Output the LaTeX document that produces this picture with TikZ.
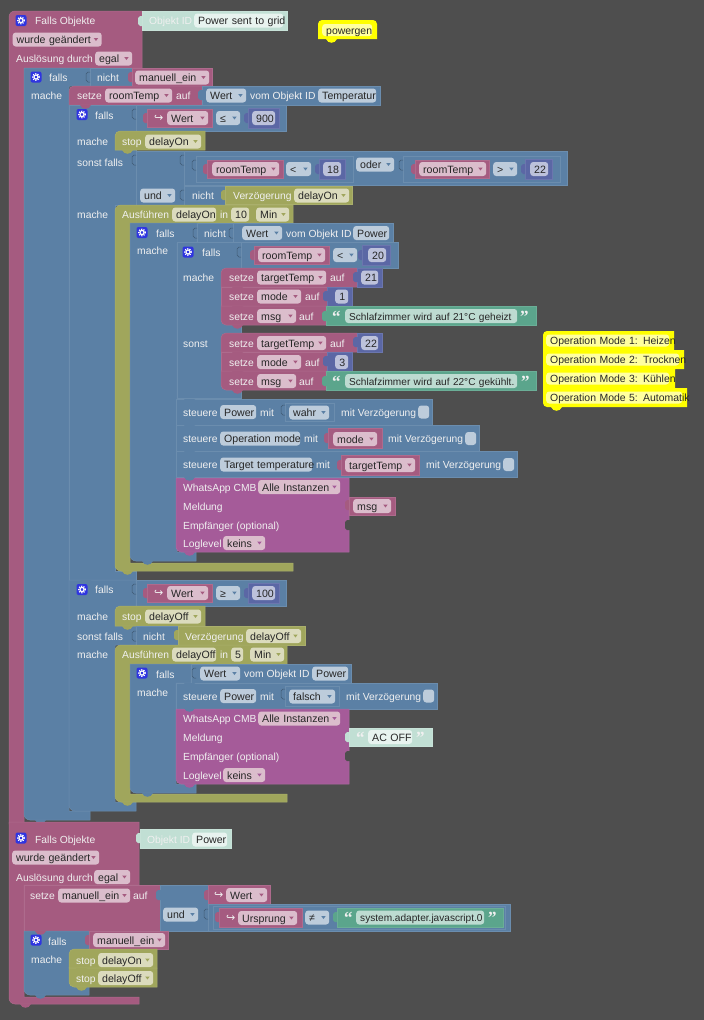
\documentclass[tikz,border=0pt]{standalone}
\usepackage{fontspec}
\setmainfont{Liberation Sans}
\newfontfamily\symfont{DejaVu Sans}
\newfontfamily\quofont{Liberation Serif}
\usepackage{tikz}

\definecolor{bgc}{HTML}{4E4E4E}
\definecolor{pk}{HTML}{A55B80}
\definecolor{bl}{HTML}{5B80A5}
\definecolor{ol}{HTML}{A0A65C}
\definecolor{tg}{HTML}{5BA58C}
\definecolor{pu}{HTML}{5B67A5}
\definecolor{wa}{HTML}{A55B99}
\definecolor{tl}{HTML}{C1DFD4}
\definecolor{ye}{HTML}{FFFF00}
\definecolor{pkf}{HTML}{DBBDCC}
\definecolor{blf}{HTML}{BDCCDB}
\definecolor{olf}{HTML}{DBDBBD}
\definecolor{tgf}{HTML}{BDDBD1}
\definecolor{puf}{HTML}{BDC2DB}
\definecolor{tlf}{HTML}{E8F3EF}
\definecolor{yef}{HTML}{FFFFA0}
\definecolor{gearc}{HTML}{2F35E0}
\definecolor{lbl}{HTML}{F0F0F0}

\newcommand{\ftxt}{\fontsize{10.6}{12}\selectfont}
\newcommand{\bump}[3]{\fill[#1] (#2,#3) .. controls (#2+2,#3+5) and (#2+9,#3+5) .. (#2+11,#3) -- cycle;}
\newcommand{\tabl}[3]{\fill[#1] (#2+1,#3-5) -- (#2-2,#3-5) -- (#2-4,#3-3) -- (#2-4,#3+3) -- (#2-2,#3+5) -- (#2+1,#3+5) -- cycle;}
\newcommand{\nch}[2]{\draw[bl!70!black,line width=.5pt] (#1,#2-5) -- (#1-2,#2-5) -- (#1-4,#2-3) -- (#1-4,#2+3) -- (#1-2,#2+5) -- (#1,#2+5);}

\tikzset{
  blk/.style={fill=#1,draw=#1!90!white,line width=.5pt},
  lab/.style={anchor=west,inner sep=0pt,text=lbl,text height=9pt,text depth=1pt,font=\fontsize{10.3}{12}\selectfont},
  fld/.style={anchor=west,inner xsep=3pt,inner ysep=2pt,text height=9pt,text depth=1pt,
    rounded corners=3pt,font=\ftxt,text=black!85,align=left,
    execute at begin node={\leavevmode\hbox\bgroup\kern1pt},execute at end node={\egroup}},
  fn/.style 2 args={fld,fill=#1,text width=#2pt},
  nm/.style 2 args={fn={#1}{#2},align=center},
  dd/.style={path picture={\fill[#1,sharp corners] ([shift={(-8pt,1.5pt)}]path picture bounding box.east)
    -- ++(4.5pt,0pt) -- ++(-2.25pt,-3pt) -- cycle;}},
  fp/.style={fn={pkf}{#1},dd=pk},
  fb/.style={fn={blf}{#1},dd=bl},
  fo/.style={fn={olf}{#1},dd=ol},
  fy/.style={fn={yef}{#1},inner ysep=1pt,font=\fontsize{10.45}{12}\selectfont},
  ft/.style={fn={tgf}{#1},font=\fontsize{10.1}{12}\selectfont},
  gear/.style={fill=gearc,rounded corners=2pt,minimum size=11pt,inner sep=0pt,
    path picture={\draw[white,line width=1.2pt,sharp corners] (path picture bounding box.center) circle (2.1pt);
      \draw[white,line width=1.2pt,sharp corners,dash pattern=on 1.2pt off 1.2pt] (path picture bounding box.center) circle (3.3pt);}},
  quo/.style={anchor=base west,inner sep=0pt,text=lbl,font=\quofont\bfseries\fontsize{17}{17}\selectfont},
  icon/.style={anchor=west,inner sep=0pt,text=lbl,font=\symfont\fontsize{11}{12}\selectfont},
  chk/.style={fill=blf,rounded corners=3pt,minimum width=11pt,minimum height=13pt,inner sep=0pt,anchor=west},
}

\begin{document}
\begin{tikzpicture}[x=1pt,y=-1pt]
  \useasboundingbox (0,0) rectangle (704,1020);
  \fill[bgc] (0,0) rectangle (704,1020);

  % first trigger
  \path[blk=pk] [rounded corners=6] (9,60) -- (9,11) -- (60,11) [sharp corners] -- (142,11) -- (142,68) -- (24,68) -- (24,824) -- (9,824) -- cycle;
  \tabl{tl}{142}{21}
  \fill[blk=tl] (142,11) rectangle (287,30);
  \node[gear] (g1) at (21,20.5) {};
  \node[lab] (l1) at (35,20.5) {Falls Objekte};
  \node[fp=83] (f1) at (12.5,39.5) {wurde geändert};
  \node[lab] (l2) at (16,58.5) {Auslösung durch};
  \node[fp=31] (f2) at (95,58.5) {egal};
  \node[lab] (l3) at (149,20.5) {Objekt ID};
  \node[fn={tlf}{83}] (f3) at (194,20.5) {Power sent to grid};

  % outer if
  \path[blk=bl] (90,68) -- (90,86) -- (69,86) -- (69,811) -- (90,811) -- (90,820) [rounded corners=6] -- (24,820) -- (24,90) [sharp corners] -- (24,68) -- cycle;
  \fill[blk=bl] (90,68) rectangle (132,86);
  \nch{90}{77}
  \tabl{pk}{132}{77}
  \fill[blk=pk] (132,68) rectangle (212,86);
  \node[gear] (g2) at (36,77) {};
  \node[lab] (l4) at (49,77.5) {falls};
  \node[lab] (l5) at (97,77.5) {nicht};
  \node[fp=68] (f4) at (135,77.5) {manuell\_ein};
  \node[lab] (l6) at (31,95.5) {mache};
  \bump{bl}{35}{820}

  % set roomTemp
  \path[blk=pk] [rounded corners=5] (69,105) -- (69,86) -- (90,86) [sharp corners] -- (202,86) -- (202,105) -- cycle;
  \fill[blk=bl] (202,86) rectangle (380,105);
  \tabl{bl}{202}{95}
  \node[lab] (l7) at (77,95.5) {setze};
  \node[fp=61] (f5) at (105,95.5) {roomTemp};
  \node[lab] (l8) at (176,95.5) {auf};
  \node[fb=34] (f6) at (206,95.5) {Wert};
  \node[lab] (l9) at (250,95.5) {vom Objekt ID};
  \node[fn={blf}{52}] (f7) at (318,95.5) {Temperatur};

  % if on Wert 900
  \path[blk=bl] (69,105) -- (136,105) -- (136,205) -- (115,205) -- (115,571) -- (136,571) -- (136,580) -- (69,580) -- cycle;
  \bump{pk}{80}{105}
  \fill[blk=bl] (136,105) rectangle (286,131);
  \nch{136}{114}
  \tabl{pk}{147}{118}
  \fill[blk=pk] (147,109) rectangle (212,127);
  \tabl{pu}{248}{118}
  \fill[blk=pu] (248,108) rectangle (279,128);
  \node[gear] (g3) at (82,114.5) {};
  \node[lab] (l10) at (95,115) {falls};
  \node[icon] (i1) at (154,118) {↪};
  \node[fp=35] (f8) at (167,118) {Wert};
  \node[fb=18] (f9) at (216,118) {≤};
  \node[nm={puf}{17}] (f10) at (252,118) {900};
  \node[lab] (l11) at (77,141) {mache};
  \path[blk=ol] [rounded corners=5] (115,150) -- (115,131) -- (130,131) [sharp corners] -- (205,131) -- (205,150) -- cycle;
  \node[lab] (l12) at (122,141.5) {stop};
  \node[fo=50] (f11) at (145,141.5) {delayOn};
  \bump{ol}{122}{150}

  % else if
  \node[lab] (l13) at (77,162) {sonst falls};
  \fill[blk=bl] (136,151) rectangle (184,205);
  \fill[blk=bl] (184,151) rectangle (567,185);
  \fill[blk=bl] (184,186) rectangle (225,205);
  \nch{136}{160}
  \nch{184}{160}
  \nch{184}{195}
  \draw[blk=bl,fill=bl] (196,156) rectangle (353,182);
  \draw[blk=bl,fill=bl] (403,156) rectangle (560,182);
  \nch{196}{165}
  \nch{403}{165}
  \tabl{pk}{207}{169}
  \fill[blk=pk] (207,160) rectangle (283,178);
  \tabl{pu}{319}{169}
  \fill[blk=pu] (319,159) rectangle (345,179);
  \tabl{pk}{415}{169}
  \fill[blk=pk] (415,160) rectangle (489,178);
  \tabl{pu}{525}{169}
  \fill[blk=pu] (525,159) rectangle (552,179);
  \node[fp=61] (f12) at (212,169) {roomTemp};
  \node[fb=19] (f13) at (286,169) {<};
  \node[nm={puf}{12}] (f14) at (323,169) {18};
  \node[fb=32] (f15) at (356,164.5) {oder};
  \node[fp=61] (f16) at (419,169) {roomTemp};
  \node[fb=18] (f17) at (493,169) {>};
  \node[nm={puf}{12}] (f18) at (530,169) {22};
  \node[fb=29] (f19) at (140,195.5) {und};
  \node[lab] (l14) at (192,195.5) {nicht};
  \tabl{ol}{225}{195}
  \fill[blk=ol] (225,186) rectangle (352,204);
  \node[lab] (l15) at (233,195.5) {Verzögerung};
  \node[fo=49] (f20) at (294,195.5) {delayOn};
  \node[lab] (l16) at (77,214) {mache};

  % delayed block
  \path[blk=ol] [rounded corners=6] (115,225) -- (115,205) -- (130,205) [sharp corners] -- (293,205) -- (293,223) -- (130,223) -- (130,563) -- (293,563) -- (293,571) [rounded corners=6] -- (115,571) -- (115,550) [sharp corners] -- cycle;
  \node[lab] (l17) at (122,214.5) {Ausführen};
  \node[fn={olf}{38}] (f21) at (172,214.5) {delayOn};
  \node[lab] (l18) at (220,214.5) {in};
  \node[nm={olf}{12}] (f22) at (231,214.5) {10};
  \node[fo=27] (f23) at (256,214.5) {Min};
  \bump{ol}{122}{571}

  % if not Power
  \path[blk=bl] (130,223) -- (197,223) -- (197,243) -- (177,243) -- (177,552) -- (196,552) -- (196,561) [rounded corners=6] -- (130,561) -- (130,540) [sharp corners] -- cycle;
  \fill[blk=bl] (197,223) rectangle (233,243);
  \fill[blk=bl] (233,223) rectangle (393,243);
  \nch{197}{233}
  \nch{233}{233}
  \node[gear] (g4) at (142,232.5) {};
  \node[lab] (l19) at (156,233) {falls};
  \node[lab] (l20) at (204,233) {nicht};
  \node[fb=34] (f24) at (242,233) {Wert};
  \node[lab] (l21) at (286,233) {vom Objekt ID};
  \node[fn={blf}{30}] (f25) at (353,233) {Power};
  \node[lab] (l22) at (137,250) {mache};
  \bump{bl}{142}{561}

  % if roomTemp 20
  \path[blk=bl] (177,242) rectangle (241,398);
  \fill[blk=bl] (241,242) rectangle (398,268);
  \nch{241}{252}
  \tabl{pk}{254}{255}
  \fill[blk=pk] (254,246) rectangle (329,264);
  \tabl{pu}{362}{255}
  \fill[blk=pu] (362,245) rectangle (390,265);
  \node[gear] (g5) at (188,252) {};
  \node[lab] (l23) at (202,252.5) {falls};
  \node[fp=61] (f26) at (258,255) {roomTemp};
  \node[fb=18] (f27) at (333,255) {<};
  \node[nm={puf}{12}] (f28) at (368,255) {20};
  \node[lab] (l24) at (183,277.5) {mache};

  % heating
  \path[blk=pk] [rounded corners=5] (221,287) -- (221,268) -- (235,268) [sharp corners] -- (357,268) -- (357,287) -- cycle;
  \fill[blk=pk] (221,287) rectangle (327,306);
  \path[blk=pk] (221,306) -- (326,306) -- (326,325) -- (236,325) [rounded corners=5] -- (221,325) -- (221,310) [sharp corners] -- cycle;
  \fill[blk=pu] (357,268) rectangle (382,287);
  \fill[blk=pu] (327,287) rectangle (352,306);
  \fill[blk=tg] (326,306) rectangle (536,325);
  \tabl{pu}{357}{277}
  \tabl{pu}{327}{296}
  \tabl{tg}{326}{316}
  \bump{pk}{232}{287}
  \bump{pk}{232}{306}
  \bump{pk}{232}{325}
  \node[lab] (l25) at (229,277.5) {setze};
  \node[fp=63] (f29) at (257,277.5) {targetTemp};
  \node[lab] (l26) at (330,277.5) {auf};
  \node[nm={puf}{11}] (f30) at (361,277.5) {21};
  \node[lab] (l27) at (229,296.5) {setze};
  \node[fp=38] (f31) at (257,296.5) {mode};
  \node[lab] (l28) at (305,296.5) {auf};
  \node[nm={puf}{7}] (f32) at (335,296.5) {1};
  \node[lab] (l29) at (229,316) {setze};
  \node[fp=33] (f33) at (257,316) {msg};
  \node[lab] (l30) at (299,316) {auf};
  \node[quo] (q1) at (332,322) {“};
  \node[ft=166] (f34) at (345,316) {Schlafzimmer wird auf 21°C geheizt};
  \node[quo] (q2) at (520,322) {”};

  % cooling
  \node[lab] (l31) at (183,343) {sonst};
  \path[blk=pk] [rounded corners=5] (221,352) -- (221,333) -- (235,333) [sharp corners] -- (357,333) -- (357,352) -- cycle;
  \fill[blk=pk] (221,352) rectangle (327,371);
  \path[blk=pk] (221,371) -- (326,371) -- (326,390) -- (236,390) [rounded corners=5] -- (221,390) -- (221,375) [sharp corners] -- cycle;
  \fill[blk=pu] (357,333) rectangle (382,352);
  \fill[blk=pu] (327,352) rectangle (352,371);
  \fill[blk=tg] (326,371) rectangle (536,390);
  \tabl{pu}{357}{342}
  \tabl{pu}{327}{361}
  \tabl{tg}{326}{381}
  \bump{pk}{232}{352}
  \bump{pk}{232}{371}
  \bump{pk}{232}{390}
  \node[lab] (l32) at (229,343) {setze};
  \node[fp=63] (f35) at (257,343) {targetTemp};
  \node[lab] (l33) at (330,343) {auf};
  \node[nm={puf}{11}] (f36) at (361,343) {22};
  \node[lab] (l34) at (229,362) {setze};
  \node[fp=38] (f37) at (257,362) {mode};
  \node[lab] (l35) at (305,362) {auf};
  \node[nm={puf}{7}] (f38) at (335,362) {3};
  \node[lab] (l36) at (229,381) {setze};
  \node[fp=33] (f39) at (257,381) {msg};
  \node[lab] (l37) at (299,381) {auf};
  \node[quo] (q3) at (332,387) {“};
  \node[ft=166] (f40) at (345,381) {Schlafzimmer wird auf 22°C gekühlt.};
  \node[quo] (q4) at (521,387) {”};

  % controls
  \fill[blk=bl] (176,399) rectangle (432,425);
  \fill[blk=bl] (176,425) rectangle (479,451);
  \fill[blk=bl] (176,451) rectangle (517,477);
  \bump{bl}{184}{399}
  \bump{bl}{184}{425}
  \bump{bl}{184}{451}
  \node[lab] (l38) at (183,412) {steuere};
  \node[fn={blf}{30}] (f41) at (220,412) {Power};
  \node[lab] (l39) at (260,412) {mit};
  \draw[blk=bl] (285,403) rectangle (334,421);
  \nch{285}{410}
  \node[fb=34] (f42) at (289,412.5) {wahr};
  \node[lab] (l40) at (341,412) {mit Verzögerung};
  \node[chk] (c1) at (418,412) {};
  \node[lab] (l41) at (183,438.5) {steuere};
  \node[fn={blf}{74}] (f43) at (220,438.5) {Operation mode};
  \node[lab] (l42) at (304,438.5) {mit};
  \tabl{pk}{328}{438}
  \fill[blk=pk] (328,428) rectangle (382,448);
  \node[fp=38] (f44) at (333,439) {mode};
  \node[lab] (l43) at (388,438.5) {mit Verzögerung};
  \node[chk] (c2) at (465,438.5) {};
  \node[lab] (l44) at (183,464.5) {steuere};
  \node[fn={blf}{86}] (f45) at (220,464.5) {Target temperature};
  \node[lab] (l45) at (316,464.5) {mit};
  \tabl{pk}{341}{465}
  \fill[blk=pk] (341,455) rectangle (419,475);
  \node[fp=64] (f46) at (345,465) {targetTemp};
  \node[lab] (l46) at (426,464.5) {mit Verzögerung};
  \node[chk] (c3) at (503,464.5) {};

  % message
  \path[blk=wa] (176,478) -- (349,478) -- (349,552) -- (190,552) [rounded corners=5] -- (176,552) -- (176,535) [sharp corners] -- cycle;
  \bump{bl}{184}{477}
  \bump{wa}{184}{552}
  \node[lab] (l47) at (183,487) {WhatsApp CMB};
  \node[fn={pkf}{76},dd=wa] (f47) at (258,487) {Alle Instanzen};
  \node[lab] (l48) at (183,506) {Meldung};
  \tabl{pk}{349}{505}
  \fill[blk=pk] (349,497) rectangle (395,515);
  \node[fp=32] (f48) at (353,506) {msg};
  \node[lab] (l49) at (183,525) {Empfänger (optional)};
  \tabl{bgc}{349}{525}
  \node[lab] (l50) at (183,543) {Loglevel};
  \node[fn={pkf}{36},dd=wa] (f49) at (223,543) {keins};

  % second if
  \path[blk=bl] (69,580) -- (136,580) -- (136,645) -- (115,645) -- (115,802) -- (136,802) -- (136,811) [rounded corners=6] -- (69,811) -- (69,790) [sharp corners] -- cycle;
  \bump{bl}{80}{580}
  \fill[blk=bl] (136,580) rectangle (286,606);
  \nch{136}{589}
  \tabl{pk}{147}{593}
  \fill[blk=pk] (147,584) rectangle (212,602);
  \tabl{pu}{248}{593}
  \fill[blk=pu] (248,583) rectangle (279,603);
  \node[gear] (g6) at (82,589.5) {};
  \node[lab] (l51) at (95,589.5) {falls};
  \node[icon] (i2) at (154,593) {↪};
  \node[fp=35] (f50) at (167,593) {Wert};
  \node[fb=18] (f51) at (216,593) {≥};
  \node[nm={puf}{17}] (f52) at (252,593) {100};
  \node[lab] (l52) at (77,616) {mache};
  \path[blk=ol] [rounded corners=5] (115,626) -- (115,606) -- (130,606) [sharp corners] -- (205,606) -- (205,626) -- cycle;
  \node[lab] (l53) at (122,616.5) {stop};
  \node[fo=50] (f53) at (145,616.5) {delayOff};
  \bump{ol}{122}{626}
  \node[lab] (l54) at (77,636) {sonst falls};
  \fill[blk=bl] (136,626) rectangle (178,645);
  \nch{136}{636}
  \node[lab] (l55) at (143,636) {nicht};
  \tabl{ol}{178}{635}
  \fill[blk=ol] (178,626) rectangle (305,645);
  \node[lab] (l56) at (185,636) {Verzögerung};
  \node[fo=49] (f54) at (246,636) {delayOff};
  \node[lab] (l57) at (77,654.5) {mache};

  % second delayed block
  \path[blk=ol] [rounded corners=6] (115,665) -- (115,645) -- (130,645) [sharp corners] -- (287,645) -- (287,664) -- (130,664) -- (130,794) -- (287,794) -- (287,802) [rounded corners=6] -- (115,802) -- (115,780) [sharp corners] -- cycle;
  \node[lab] (l58) at (122,654.5) {Ausführen};
  \node[fn={olf}{38}] (f55) at (172,654.5) {delayOff};
  \node[lab] (l59) at (220,654.5) {in};
  \node[nm={olf}{6}] (f56) at (231,654.5) {5};
  \node[fo=28] (f57) at (250,654.5) {Min};
  \bump{ol}{122}{802}

  % if Power
  \path[blk=bl] (130,664) -- (191,664) -- (191,683) -- (176,683) -- (176,784) -- (196,784) -- (196,793) [rounded corners=6] -- (130,793) -- (130,775) [sharp corners] -- cycle;
  \fill[blk=bl] (191,664) rectangle (351,683);
  \nch{196}{673}
  \node[gear] (g7) at (142,673) {};
  \node[lab] (l60) at (156,674) {falls};
  \node[fb=34] (f58) at (200,673.5) {Wert};
  \node[lab] (l61) at (244,673.5) {vom Objekt ID};
  \node[fn={blf}{30}] (f59) at (312,673.5) {Power};
  \node[lab] (l62) at (137,692) {mache};
  \bump{bl}{142}{793}
  \fill[blk=bl] (176,683) rectangle (437,709);
  \bump{bl}{184}{683}
  \node[lab] (l63) at (183,696) {steuere};
  \node[fn={blf}{30}] (f60) at (220,696) {Power};
  \node[lab] (l64) at (260,696) {mit};
  \draw[blk=bl] (285,686) rectangle (339,706);
  \nch{285}{694}
  \node[fb=40] (f61) at (289,696.5) {falsch};
  \node[lab] (l65) at (346,696) {mit Verzögerung};
  \node[chk] (c4) at (423,696) {};
  \path[blk=wa] (176,709) -- (349,709) -- (349,784) -- (190,784) [rounded corners=5] -- (176,784) -- (176,768) [sharp corners] -- cycle;
  \bump{bl}{184}{708}
  \bump{wa}{184}{784}
  \node[lab] (l66) at (183,718.5) {WhatsApp CMB};
  \node[fn={pkf}{76},dd=wa] (f62) at (258,718.5) {Alle Instanzen};
  \node[lab] (l67) at (183,737) {Meldung};
  \tabl{tl}{349}{737}
  \fill[blk=tl] (349,728) rectangle (432,746);
  \node[quo] (q5) at (356,743) {“};
  \node[nm={tlf}{38}] (f63) at (368,737) {AC OFF};
  \node[quo] (q6) at (416,743) {”};
  \node[lab] (l68) at (183,756.5) {Empfänger (optional)};
  \tabl{bgc}{349}{756}
  \node[lab] (l69) at (183,775) {Loglevel};
  \node[fn={pkf}{36},dd=wa] (f64) at (223,775) {keins};

  % second trigger
  \path[blk=pk] (9,822) -- (139,822) -- (139,885) -- (24,885) -- (24,997) -- (139,997) -- (139,1004) [rounded corners=6] -- (9,1004) -- (9,985) [sharp corners] -- cycle;
  \bump{pk}{20}{1004}
  \tabl{tl}{140}{838}
  \fill[blk=tl] (140,829) rectangle (231,848);
  \node[gear] (g8) at (21,838) {};
  \node[lab] (l70) at (35,839.5) {Falls Objekte};
  \node[lab] (l71) at (147,839.5) {Objekt ID};
  \node[fn={tlf}{29}] (f65) at (192,839.5) {Power};
  \node[fp=81] (f66) at (12,857.5) {wurde geändert};
  \node[lab] (l72) at (16,877) {Auslösung durch};
  \node[fp=30] (f67) at (94,877) {egal};

  % set manuell_ein
  \fill[blk=pk] (24,885) rectangle (160,931);
  \fill[blk=bl] (160,885) rectangle (208,931);
  \tabl{bl}{160}{895}
  \node[lab] (l73) at (30,895.5) {setze};
  \node[fp=66] (f68) at (58,895.5) {manuell\_ein};
  \node[lab] (l74) at (133,895.5) {auf};
  \node[fb=29] (f69) at (163,914.5) {und};
  \tabl{pk}{208}{895}
  \fill[blk=pk] (208,885) rectangle (270,905);
  \node[icon] (i3) at (214,895) {↪};
  \node[fp=35] (f70) at (226,895) {Wert};
  \fill[blk=bl] (208,904) rectangle (510,931);
  \nch{208}{914}
  \draw[blk=bl] (213,906) rectangle (505,929);
  \tabl{pk}{219}{917}
  \fill[blk=pk] (219,908) rectangle (302,927);
  \node[icon] (i4) at (226,918) {↪};
  \node[fp=53] (f71) at (238,918) {Ursprung};
  \node[fb=18] (f72) at (305,917.5) {≠};
  \tabl{tg}{337}{917}
  \fill[blk=tg] (337,908) rectangle (503,927);
  \node[quo] (q7) at (344,923) {“};
  \node[ft=122] (f73) at (356,917.5) {system.adapter.javascript.0};
  \node[quo] (q8) at (488,923) {”};

  % if manuell_ein
  \path[blk=bl] (24,931) -- (89,931) -- (89,995) [rounded corners=6] -- (24,995) -- (24,975) [sharp corners] -- cycle;
  \bump{pk}{35}{931}
  \bump{bl}{35}{995}
  \tabl{pk}{89}{940}
  \fill[blk=pk] (89,931) rectangle (168,949);
  \node[gear] (g9) at (36,940) {};
  \node[lab] (l75) at (48,941) {falls};
  \node[fp=66] (f74) at (93,940) {manuell\_ein};
  \node[lab] (l76) at (31,959) {mache};
  \path[blk=ol] [rounded corners=5] (69,968) -- (69,949) -- (84,949) [sharp corners] -- (157,949) -- (157,968) -- cycle;
  \path[blk=ol] (69,968) -- (157,968) -- (157,987) -- (84,987) [rounded corners=5] -- (69,987) -- (69,972) [sharp corners] -- cycle;
  \bump{ol}{76}{968}
  \bump{ol}{76}{987}
  \node[lab] (l77) at (76,960) {stop};
  \node[fo=49] (f75) at (98,960) {delayOn};
  \node[lab] (l78) at (76,978) {stop};
  \node[fo=49] (f76) at (98,978) {delayOff};

  % loose yellow blocks
  \path[fill=ye,rounded corners=4] (318,39) -- (318,20) -- (377,20) [sharp corners] -- (377,39) -- cycle;
  \bump{ye}{326}{39}
  \node[fy=44] (y1) at (322,30) {powergen};
  \path[fill=ye,rounded corners=4] (543,345) -- (543,331) -- (560,331) [sharp corners] -- (674,331) -- (674,350) -- (684,350) -- (684,369) -- (675,369) -- (675,388) -- (687,388) -- (687,407) [rounded corners=4] -- (543,407) -- (543,395) [sharp corners] -- cycle;
  \bump{ye}{551}{407}
  \node[fy=117] (y2) at (546,340.5) {Operation Mode 1: Heizen};
  \node[fy=127] (y3) at (546,359.5) {Operation Mode 2: Trocknen};
  \node[fy=117] (y4) at (546,378.5) {Operation Mode 3: Kühlen};
  \node[fy=130] (y5) at (546,397.5) {Operation Mode 5: Automatik};
\end{tikzpicture}
\end{document}
